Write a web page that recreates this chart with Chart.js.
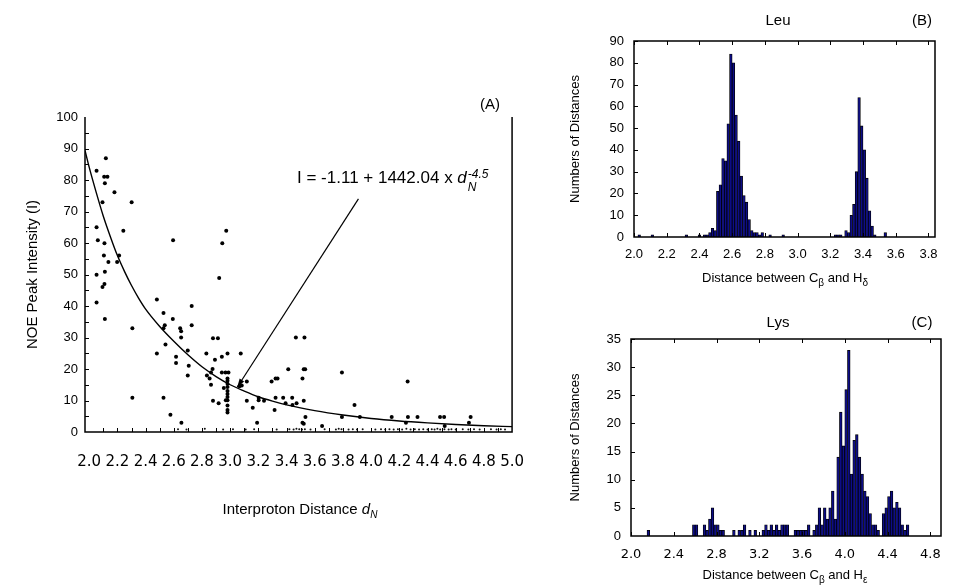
<!DOCTYPE html>
<html>
<head>
<meta charset="utf-8">
<script src="https://cdn.jsdelivr.net/npm/chart.js@4.4.1/dist/chart.umd.min.js"></script>
<style>
  body { margin: 0; width: 963px; height: 586px; background: #fff; position: relative; overflow: hidden;
         font-family: "Liberation Sans", Arial, sans-serif; color: #000; }
  canvas { position: absolute; }
  .lbl { position: absolute; white-space: nowrap; transform: translate(-50%, -50%); }
  .eq { position: absolute; white-space: nowrap; transform: translate(0, -50%); }
  .ss { display: inline-block; vertical-align: -8px; font-style: italic; font-size: 12px; line-height: 13px; margin-left: 1px; }
  .ss span { display: block; }
  sub { font-size: 10px; }
</style>
</head>
<body>
<canvas id="chartA" width="545" height="586" style="left:0;top:0"></canvas>
<canvas id="chartB" width="418" height="300" style="left:545px;top:0"></canvas>
<canvas id="chartC" width="418" height="286" style="left:545px;top:300px"></canvas>

<!-- panel A text -->
<div class="lbl" style="left:300px;top:510px;font-size:15px">Interproton Distance <i>d</i><sub><i>N</i></sub></div>
<div class="lbl" style="left:490px;top:103px;font-size:15px">(A)</div>
<div class="eq" style="left:297px;top:181px;font-size:17px">I = -1.11 + 1442.04 x <i>d</i><span class="ss"><span>-4.5</span><span>N</span></span></div>

<!-- panel B text -->
<div class="lbl" style="left:778px;top:19px;font-size:15px">Leu</div>
<div class="lbl" style="left:922px;top:19px;font-size:15px">(B)</div>
<div class="lbl" style="left:785px;top:279px;font-size:13px">Distance between C<sub>β</sub> and H<sub>δ</sub></div>

<!-- panel C text -->
<div class="lbl" style="left:778px;top:321px;font-size:15px">Lys</div>
<div class="lbl" style="left:922px;top:321px;font-size:15px">(C)</div>
<div class="lbl" style="left:785px;top:576px;font-size:13px">Distance between C<sub>β</sub> and H<sub>ε</sub></div>

<script>
// ---- panel A : NOE intensity vs interproton distance ----
const noeDist = [2.118, 2.052, 2.106, 2.129, 2.111, 2.179, 2.094, 2.301, 2.052, 2.242, 2.061, 2.595, 2.972,
  2.944, 2.108, 2.104, 2.212, 2.136, 2.198, 2.052, 2.111, 2.108, 2.094, 2.922, 2.48, 2.052, 2.111,
  2.306, 2.527, 2.593, 2.536, 2.527, 2.727, 2.727, 2.645, 2.652, 2.652, 2.541, 2.48, 2.616, 2.616, 2.699,
  2.706, 2.699, 2.306, 2.527, 2.576, 2.654, 2.831, 2.878, 2.913, 2.892, 2.941, 2.981, 3.075, 2.875, 2.864,
  2.835, 2.854, 2.864, 2.941, 2.967, 2.988,
  2.981, 2.981, 2.981, 2.981, 2.981, 2.981, 2.981, 2.981, 2.981, 2.981, 2.981,
  2.955, 2.969, 2.878, 2.918, 3.066, 3.082, 3.118, 3.118, 3.16, 3.202, 3.202, 3.24, 3.191, 3.294, 3.315,
  3.322, 3.336, 3.322, 3.376, 3.393, 3.412, 3.44, 3.442, 3.471, 3.466, 3.527, 3.522, 3.532, 3.513, 3.522,
  3.534, 3.513, 3.522, 3.652, 3.793, 3.793, 3.882, 3.92, 4.146, 4.259, 4.261, 4.247, 4.329, 4.489, 4.518,
  4.522, 4.706, 4.694];
const noeInt = [86.9, 82.9, 81.0, 81.0, 79.0, 76.1, 72.9, 72.9, 65.0, 63.9, 60.9, 60.9, 63.9,
  59.9, 59.9, 56.0, 56.0, 54.0, 54.0, 49.9, 50.9, 47.0, 46.0, 48.9, 42.1, 41.1, 35.9,
  32.9, 37.8, 35.9, 33.9, 32.9, 40.0, 33.9, 32.9, 32.0, 30.0, 27.8, 24.9, 23.9, 21.9, 25.9,
  21.0, 17.9, 10.9, 10.9, 5.5, 2.9, 24.9, 29.8, 29.8, 22.9, 23.9, 24.9, 24.9, 20.0, 18.9,
  17.9, 17.0, 15.0, 18.9, 18.9, 18.9,
  17.0, 16.3, 15.3, 14.3, 13.0, 12.1, 11.1, 10.1, 8.4, 7.0, 6.2,
  14.0, 10.1, 9.9, 9.1, 14.5, 14.8, 16.0, 9.9, 7.7, 10.9, 10.1, 9.9, 2.9, 16.0, 7.0,
  17.0, 17.0, 10.9, 10.9, 9.1, 19.9, 10.9, 8.6, 9.1, 30.0, 30.0, 19.9, 19.9, 17.0, 9.9,
  4.8, 2.9, 2.6, 1.9, 18.9, 4.8, 8.6, 4.8, 4.8, 16.0, 4.8, 2.9, 4.8, 4.8, 4.8,
  1.9, 4.8, 2.9];
// very weak peaks lying along the baseline
const weakDist = [2.63, 2.69, 2.82, 2.95, 3.02, 3.11, 3.17, 3.33, 3.42, 3.45, 3.47, 3.49, 3.51, 3.53, 3.57,
  3.67, 3.75, 3.77, 3.79, 3.84, 3.87, 3.90, 3.94, 4.03, 4.07, 4.10, 4.13, 4.16, 4.19, 4.22, 4.25, 4.28,
  4.31, 4.34, 4.37, 4.40, 4.43, 4.45, 4.47, 4.49, 4.52, 4.55, 4.57, 4.60, 4.65, 4.69, 4.73, 4.77, 4.85,
  4.89, 4.92, 4.95];
const weakInt = [0.9, 0.8, 1.0, 0.8, 0.9, 0.8, 0.9, 0.8, 0.9, 0.8, 1.0, 0.9, 0.8, 0.9, 0.8,
  0.9, 0.8, 1.0, 0.9, 0.8, 0.9, 0.8, 0.9, 0.8, 0.9, 0.8, 0.9, 0.8, 0.9, 0.8, 1.0, 0.8,
  0.9, 0.8, 0.9, 0.8, 0.9, 0.8, 1.0, 0.8, 0.9, 0.8, 0.9, 0.8, 0.9, 0.8, 0.9, 0.8, 0.9,
  0.8, 0.9, 0.8];
// fitted curve
const fitDist = [1.97, 2.0, 2.05, 2.1, 2.15, 2.2, 2.25, 2.3, 2.35, 2.4, 2.5, 2.6, 2.7, 2.8, 2.9, 3.0, 3.1,
  3.2, 3.3, 3.4, 3.6, 3.8, 4.0, 4.2, 4.4, 4.6, 4.8, 5.0];
const fitInt = [89.4, 84, 76, 68.5, 62, 56, 51, 46.5, 42.5, 39, 33.5, 28.8, 24.5, 20.7, 17.6, 15, 13, 11.2,
  9.8, 8.6, 6.8, 5.4, 4.3, 3.5, 2.9, 2.4, 2.0, 1.7];

// ---- panel B : Leu, Cbeta-Hdelta distance histogram ----
const leuBin = [2.032, 2.112, 2.32, 2.40, 2.432, 2.448, 2.464, 2.48, 2.496, 2.512, 2.528, 2.544, 2.56,
  2.576, 2.592, 2.608, 2.624, 2.64, 2.656, 2.672, 2.688, 2.704, 2.72, 2.736, 2.752, 2.768, 2.784, 2.832,
  2.912, 3.232, 3.248, 3.264, 3.296, 3.312, 3.328, 3.344, 3.36, 3.376, 3.392, 3.408, 3.424, 3.44, 3.456,
  3.472, 3.536];
const leuCount = [1, 1, 1, 1, 1, 1, 2, 4, 3, 21, 24, 36, 35, 52, 84, 80, 56, 44, 28, 19, 16, 8, 3, 2, 2,
  1, 2, 1, 1, 1, 1, 1, 3, 2, 10, 15, 30, 64, 51, 40, 27, 12, 5, 1, 2];

// ---- panel C : Lys, Cbeta-Hepsilon distance histogram ----
const lysBin = [2.1625, 2.5875, 2.6125, 2.6875, 2.7125, 2.7375, 2.7625, 2.7875, 2.8125, 2.8375, 2.8625,
  2.9625, 3.0125, 3.0375, 3.0625, 3.1125, 3.1625, 3.2375, 3.2625, 3.2875, 3.3125, 3.3375, 3.3625, 3.3875,
  3.4125, 3.4375, 3.4625, 3.5375, 3.5625, 3.5875, 3.6125, 3.6375, 3.6625, 3.7125, 3.7375, 3.7625, 3.7875,
  3.8125, 3.8375, 3.8625, 3.8875, 3.9125, 3.9375, 3.9625, 3.9875, 4.0125, 4.0375, 4.0625, 4.0875, 4.1125,
  4.1375, 4.1625, 4.1875, 4.2125, 4.2375, 4.2625, 4.2875, 4.3125, 4.3625, 4.3875, 4.4125, 4.4375, 4.4625,
  4.4875, 4.5125, 4.5375, 4.5625, 4.5875];
const lysCount = [1, 2, 2, 2, 1, 3, 5, 2, 2, 1, 1,
  1, 1, 1, 2, 1, 1, 1, 2, 1, 2, 1, 2, 1,
  2, 2, 2, 1, 1, 1, 1, 1, 2, 1, 2, 5, 2,
  5, 3, 5, 8, 3, 14, 22, 16, 26, 33, 11, 17, 18,
  14, 11, 8, 7, 4, 2, 2, 1, 4, 5, 7, 8, 5,
  6, 5, 2, 1, 2];

const range = (a, b, s) => { const out = []; for (let v = a; v <= b + 1e-9; v += s) out.push(+v.toFixed(3)); return out; };
const toXY = (xs, ys) => xs.map((x, i) => ({ x: x, y: ys[i] }));

// plot frame with small inward tick marks
const framePlugin = {
  id: 'frame',
  afterDraw(chart, args, o) {
    const { ctx, chartArea: a, scales } = chart;
    ctx.save();
    ctx.strokeStyle = '#000';
    ctx.lineWidth = o.lineWidth || 1.5;
    ctx.beginPath();
    ctx.moveTo(a.left, a.top); ctx.lineTo(a.left, a.bottom); ctx.lineTo(a.right, a.bottom); ctx.lineTo(a.right, a.top);
    if (o.closed) ctx.closePath();
    ctx.stroke();
    ctx.lineWidth = 1;
    ctx.beginPath();
    (o.xTicks || []).forEach(v => {
      const x = Math.round(scales.x.getPixelForValue(v)) + 0.5;
      ctx.moveTo(x, a.bottom); ctx.lineTo(x, a.bottom - 4);
      if (o.closed) { ctx.moveTo(x, a.top); ctx.lineTo(x, a.top + 4); }
    });
    (o.yTicks || []).forEach(v => {
      const y = Math.round(scales.y.getPixelForValue(v)) + 0.5;
      ctx.moveTo(a.left, y); ctx.lineTo(a.left + 4, y);
    });
    ctx.stroke();
    ctx.restore();
  }
};

// arrow from the equation down to the fitted curve
const arrowPlugin = {
  id: 'arrow',
  afterDatasetsDraw(chart, args, o) {
    if (!o.from) return;
    const { ctx, scales } = chart;
    const x1 = scales.x.getPixelForValue(o.from[0]), y1 = scales.y.getPixelForValue(o.from[1]);
    const x2 = scales.x.getPixelForValue(o.to[0]), y2 = scales.y.getPixelForValue(o.to[1]);
    const ang = Math.atan2(y2 - y1, x2 - x1);
    ctx.save();
    ctx.strokeStyle = '#000'; ctx.fillStyle = '#000'; ctx.lineWidth = 1.2;
    ctx.beginPath(); ctx.moveTo(x1, y1); ctx.lineTo(x2, y2); ctx.stroke();
    ctx.beginPath();
    ctx.moveTo(x2, y2);
    ctx.lineTo(x2 - 9 * Math.cos(ang - 0.3), y2 - 9 * Math.sin(ang - 0.3));
    ctx.lineTo(x2 - 9 * Math.cos(ang + 0.3), y2 - 9 * Math.sin(ang + 0.3));
    ctx.closePath(); ctx.fill();
    ctx.restore();
  }
};

Chart.defaults.font.family = '"Liberation Sans", Arial, sans-serif';
Chart.defaults.color = '#000';

const noTip = { legend: { display: false }, tooltip: { enabled: false } };

new Chart(document.getElementById('chartA'), {
  type: 'scatter',
  data: {
    datasets: [
      { data: toXY(noeDist, noeInt), pointRadius: 2, backgroundColor: '#000', borderWidth: 0 },
      { data: toXY(weakDist, weakInt), pointRadius: 1, backgroundColor: '#111', borderWidth: 0 },
      { type: 'line', data: toXY(fitDist, fitInt), borderColor: '#000', borderWidth: 1.4, pointRadius: 0,
        cubicInterpolationMode: 'monotone', fill: false }
    ]
  },
  options: {
    responsive: false, animation: false,
    layout: { padding: { top: 117, right: 30, left: 0, bottom: 0 } },
    plugins: Object.assign({}, noTip, {
      frame: { xTicks: range(2.1, 4.9, 0.1), yTicks: range(5, 95, 5), closed: false },
      arrow: { from: [3.91, 74], to: [3.05, 14.2] }
    }),
    scales: {
      x: {
        type: 'linear', min: 1.97, max: 5, offset: false,
        grid: { display: false, drawTicks: false }, border: { display: false },
        ticks: { stepSize: 0.2, includeBounds: false, padding: 21, maxRotation: 0, autoSkip: false,
                 font: { family: '"DejaVu Sans"', size: 15 }, callback: v => v.toFixed(1) },
        afterFit: s => { s.height = 154; }
      },
      y: {
        min: 0, max: 100,
        grid: { display: false, drawTicks: false }, border: { display: false },
        title: { display: true, text: 'NOE Peak Intensity (I)', font: { size: 15 }, padding: { top: 24, bottom: 0 } },
        ticks: { stepSize: 10, padding: 7, font: { size: 13 } },
        afterFit: s => { s.width = 85; }
      }
    }
  },
  plugins: [framePlugin, arrowPlugin]
});

function histogram(id, bins, counts, xMax, yMax, yStep, xStep, pad, xH, yW, xFont, xPad) {
  return new Chart(document.getElementById(id), {
    type: 'bar',
    data: {
      datasets: [{ data: toXY(bins, counts), backgroundColor: '#0d0d86', borderColor: '#000', borderWidth: 0.8,
                   barPercentage: 1, categoryPercentage: 1 }]
    },
    options: {
      responsive: false, animation: false,
      layout: { padding: pad },
      plugins: Object.assign({}, noTip, {
        frame: { xTicks: range(2, xMax, xStep), yTicks: range(yStep, yMax, yStep), closed: true }
      }),
      scales: {
        x: {
          type: 'linear', min: 2, max: xMax, offset: false,
          grid: { display: false, drawTicks: false }, border: { display: false },
          ticks: { stepSize: xStep, includeBounds: false, padding: xPad, maxRotation: 0, autoSkip: false,
                   font: xFont, callback: v => v.toFixed(1) },
          afterFit: s => { s.height = xH; }
        },
        y: {
          min: 0, max: yMax,
          grid: { display: false, drawTicks: false }, border: { display: false },
          title: { display: true, text: 'Numbers of Distances', font: { size: 13 }, padding: { top: 23, bottom: 0 } },
          ticks: { stepSize: yStep, padding: 10, font: { size: 13 } },
          afterFit: s => { s.width = yW; }
        }
      }
    },
    plugins: [framePlugin]
  });
}

histogram('chartB', leuBin, leuCount, 3.84, 90, 10, 0.2,
  { top: 41, right: 28, left: 0, bottom: 0 }, 63, 89, { size: 13 }, 10);
histogram('chartC', lysBin, lysCount, 4.9, 35, 5, 0.4,
  { top: 39, right: 22, left: 0, bottom: 0 }, 50, 86, { family: '"DejaVu Sans"', size: 13 }, 11);
</script>
</body>
</html>
